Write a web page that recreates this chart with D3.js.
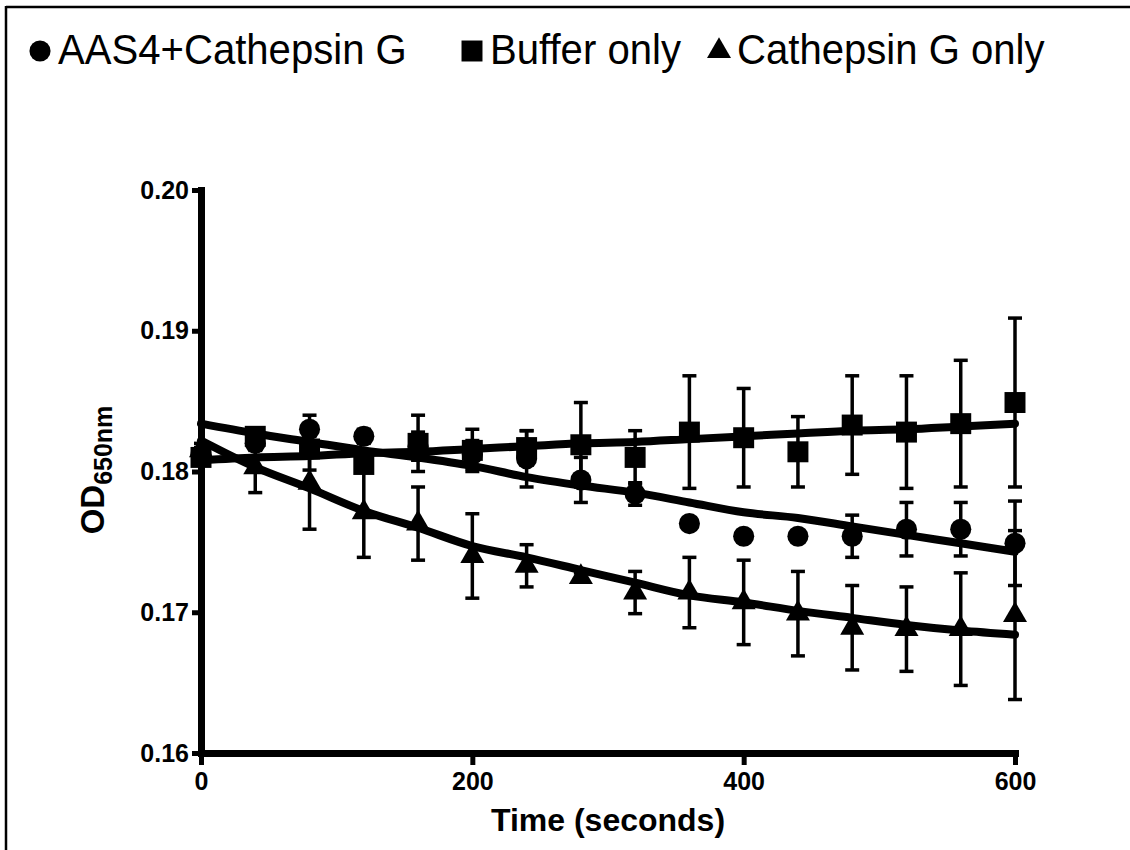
<!DOCTYPE html>
<html>
<head>
<meta charset="utf-8">
<script src="https://cdn.jsdelivr.net/npm/d3@7"></script>
<style>
  body { margin: 0; background: #fff; }
  text { font-family: "Liberation Sans", Arial, sans-serif; fill: #000; }
</style>
</head>
<body>
<div id="chart"></div>
<script>
// time points (seconds)
const times = [0, 40, 80, 120, 160, 200, 240, 280, 320, 360, 400, 440, 480, 520, 560, 600];

// AAS4 + Cathepsin G (circles)
const aasMean = [0.1812, 0.1820, 0.1830, 0.1825, 0.1818, 0.1812, 0.1809, 0.1794, 0.1784, 0.1763, 0.1754, 0.1754, 0.1754, 0.1759, 0.1759, 0.1749];
const aasErr  = [0.0005, 0.0005, 0.0010, 0.0005, 0.0010, 0.0010, 0.0020, 0.0016, 0.0008, 0.0003, 0.0003, 0.0003, 0.0015, 0.0019, 0.0019, 0.0030];
const aasFit  = [0.1834, 0.1827, 0.1821, 0.1815, 0.1810, 0.1804, 0.1796, 0.1790, 0.1785, 0.1778, 0.1771, 0.1767, 0.1761, 0.1755, 0.1749, 0.1743];

// Buffer only (squares)
const bufMean = [0.1810, 0.1825, 0.1816, 0.1805, 0.1820, 0.1815, 0.1817, 0.1819, 0.1810, 0.1828, 0.1824, 0.1814, 0.1833, 0.1828, 0.1834, 0.1849];
const bufErr  = [0.0005, 0.0005, 0.0015, 0.0005, 0.0020, 0.0015, 0.0012, 0.0030, 0.0019, 0.0040, 0.0035, 0.0025, 0.0035, 0.0040, 0.0045, 0.0060];
const bufFit  = [0.1808, 0.1810, 0.1811, 0.1813, 0.1814, 0.1816, 0.1818, 0.1820, 0.1821, 0.1823, 0.1825, 0.1827, 0.1829, 0.1830, 0.1832, 0.1834];

// Cathepsin G only (triangles)
const triMean = [0.1815, 0.1803, 0.1792, 0.1771, 0.1763, 0.1740, 0.1733, 0.1725, 0.1714, 0.1714, 0.1707, 0.1699, 0.1689, 0.1688, 0.1688, 0.1698];
const triErr  = [0.0005, 0.0018, 0.0033, 0.0032, 0.0026, 0.0030, 0.0015, 0.0003, 0.0015, 0.0025, 0.0030, 0.0030, 0.0030, 0.0030, 0.0040, 0.0060];
const triFit  = [0.1822, 0.1803, 0.1788, 0.1772, 0.1760, 0.1747, 0.1739, 0.1730, 0.1721, 0.1712, 0.1707, 0.1701, 0.1696, 0.1691, 0.1687, 0.1684];

const seriesNames = ["AAS4+Cathepsin G", "Buffer only", "Cathepsin G only"];
const xTicks = [0, 200, 400, 600];
const yTicks = [0.16, 0.17, 0.18, 0.19, 0.20];

const width = 1130, height = 850;

const svg = d3.select("#chart").append("svg")
    .attr("width", width)
    .attr("height", height);

svg.append("rect").attr("width", width).attr("height", height).attr("fill", "#fff");

// frame (left and top edges only)
svg.append("line").attr("x1", 6).attr("x2", 6).attr("y1", 6).attr("y2", height)
    .attr("stroke", "#000").attr("stroke-width", 2.5);
svg.append("line").attr("x1", 6).attr("x2", width).attr("y1", 7).attr("y2", 7)
    .attr("stroke", "#000").attr("stroke-width", 2.5);

const x = d3.scaleLinear().domain([0, 600]).range([201, 1015]);
const y = d3.scaleLinear().domain([0.16, 0.20]).range([753, 190]);

const shapes = [d3.symbolCircle, d3.symbolSquare, d3.symbolTriangle];
const sizes = [350, 440, 250];

const series = [
    { mean: aasMean, err: aasErr, fit: aasFit },
    { mean: bufMean, err: bufErr, fit: bufFit },
    { mean: triMean, err: triErr, fit: triFit }
];

// axes
const yAxis = svg.append("g")
    .attr("transform", `translate(${x(0)},0)`)
    .call(d3.axisLeft(y).tickValues(yTicks).tickFormat(d3.format(".2f")).tickSize(9).tickSizeOuter(0).tickPadding(3));
const xAxis = svg.append("g")
    .attr("transform", `translate(0,${y(0.16)})`)
    .call(d3.axisBottom(x).tickValues(xTicks).tickFormat(d3.format("d")).tickSize(12).tickSizeOuter(0).tickPadding(7));

[yAxis, xAxis].forEach(g => {
    g.select(".domain").attr("stroke", "#000").attr("stroke-width", 7).attr("stroke-linecap", "square");
    g.selectAll(".tick line").attr("stroke", "#000").attr("stroke-width", 5);
    g.selectAll(".tick text")
        .attr("fill", "#000")
        .style("font-family", "'Liberation Sans', Arial, sans-serif")
        .style("font-weight", "bold")
        .style("font-size", "25px");
});

// error bars
const capW = 7;
series.forEach(s => {
    const g = svg.append("g").attr("stroke", "#000").attr("stroke-width", 3.5);
    times.forEach((t, i) => {
        const lo = y(s.mean[i] - s.err[i]), hi = y(s.mean[i] + s.err[i]);
        g.append("line").attr("x1", x(t)).attr("x2", x(t)).attr("y1", lo).attr("y2", hi);
        g.append("line").attr("x1", x(t) - capW).attr("x2", x(t) + capW).attr("y1", lo).attr("y2", lo);
        g.append("line").attr("x1", x(t) - capW).attr("x2", x(t) + capW).attr("y1", hi).attr("y2", hi);
    });
});

// fitted curves
const line = d3.line()
    .x((d, i) => x(times[i]))
    .y(d => y(d))
    .curve(d3.curveMonotoneX);

series.forEach(s => {
    svg.append("path")
        .datum(s.fit)
        .attr("fill", "none")
        .attr("stroke", "#000")
        .attr("stroke-width", 8)
        .attr("stroke-linecap", "round")
        .attr("d", line);
});

// symbols
series.forEach((s, k) => {
    svg.append("g").selectAll("path")
        .data(s.mean)
        .join("path")
        .attr("transform", (d, i) => `translate(${x(times[i])},${y(d)})`)
        .attr("d", d3.symbol().type(shapes[k]).size(sizes[k]))
        .attr("fill", "#000");
});

// axis titles
svg.append("text")
    .attr("x", (x(0) + x(600)) / 2)
    .attr("y", 831)
    .attr("text-anchor", "middle")
    .style("font-weight", "bold")
    .style("font-size", "32px")
    .text("Time (seconds)");

const yl = svg.append("text")
    .attr("transform", `translate(104,470) rotate(-90)`)
    .attr("text-anchor", "middle")
    .style("font-weight", "bold")
    .style("font-size", "33px");
yl.append("tspan").text("OD");
yl.append("tspan").attr("dy", 8).style("font-size", "25px").text("650nm");

// legend
const legendX = [40, 472, 719];
const legend = svg.append("g");
seriesNames.forEach((name, k) => {
    legend.append("path")
        .attr("transform", `translate(${legendX[k]},51)`)
        .attr("d", d3.symbol().type(shapes[k]).size(sizes[k]))
        .attr("fill", "#000");
    legend.append("text")
        .attr("transform", `translate(${legendX[k] + 18},64) scale(0.955,1)`)
        .style("font-size", "42px")
        .text(name);
});
</script>
</body>
</html>
